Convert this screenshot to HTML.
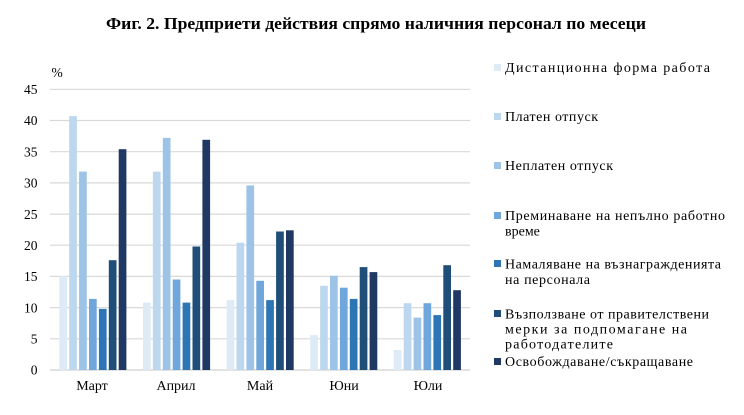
<!DOCTYPE html>
<html>
<head>
<meta charset="utf-8">
<style>
html,body{margin:0;padding:0;background:#fff;}
svg{display:block;}
text{font-family:"Liberation Serif","Noto Serif CJK SC",serif;fill:#000;}
</style>
</head>
<body>
<svg width="744" height="415" viewBox="0 0 744 415" xmlns="http://www.w3.org/2000/svg">
<rect width="744" height="415" fill="#fff"/>
<text x="106" y="29" font-size="17" font-weight="bold" textLength="540" lengthAdjust="spacingAndGlyphs">Фиг. 2. Предприети действия спрямо наличния персонал по месеци</text>

<g stroke="#d9d9d9" stroke-width="1.2">
<line x1="50" y1="89.3" x2="470" y2="89.3"/>
<line x1="50" y1="120.5" x2="470" y2="120.5"/>
<line x1="50" y1="151.7" x2="470" y2="151.7"/>
<line x1="50" y1="182.9" x2="470" y2="182.9"/>
<line x1="50" y1="214.1" x2="470" y2="214.1"/>
<line x1="50" y1="245.2" x2="470" y2="245.2"/>
<line x1="50" y1="276.4" x2="470" y2="276.4"/>
<line x1="50" y1="307.6" x2="470" y2="307.6"/>
<line x1="50" y1="338.8" x2="470" y2="338.8"/>
</g>

<g font-size="13.5" text-anchor="end">
<text x="37.5" y="94">45</text>
<text x="37.5" y="125.2">40</text>
<text x="37.5" y="156.4">35</text>
<text x="37.5" y="187.6">30</text>
<text x="37.5" y="218.8">25</text>
<text x="37.5" y="249.9">20</text>
<text x="37.5" y="281.1">15</text>
<text x="37.5" y="312.3">10</text>
<text x="37.5" y="343.5">5</text>
<text x="37.5" y="374.7">0</text>
</g>
<text x="51.5" y="77" font-size="13.5">%</text>

<line x1="50" y1="370" x2="470" y2="370" stroke="#d0d0d0" stroke-width="1.2"/>

<g font-size="14" text-anchor="middle">
<text x="92" y="390">Март</text>
<text x="176" y="390">Април</text>
<text x="260" y="390">Май</text>
<text x="344" y="390">Юни</text>
<text x="428" y="390">Юли</text>
</g>

<g>
<rect x="494" y="64" width="7" height="7" fill="#deebf7"/>
<rect x="494" y="113" width="7" height="7" fill="#bdd7ee"/>
<rect x="494" y="162" width="7" height="7" fill="#9dc3e6"/>
<rect x="494" y="212" width="7" height="7" fill="#6fa6dc"/>
<rect x="494" y="260" width="7" height="7" fill="#2e75b6"/>
<rect x="494" y="310" width="7" height="7" fill="#1f4e79"/>
<rect x="494" y="358" width="7" height="7" fill="#203864"/>
</g>
<g font-size="14">
<text x="505" y="72" textLength="205" lengthAdjust="spacing">Дистанционна форма работа</text>
<text x="505" y="121" textLength="93" lengthAdjust="spacing">Платен отпуск</text>
<text x="505" y="170" textLength="108" lengthAdjust="spacing">Неплатен отпуск</text>
<text x="505" y="220" textLength="220" lengthAdjust="spacing">Преминаване на непълно работно</text>
<text x="505" y="235.5">време</text>
<text x="505" y="268.5" textLength="216" lengthAdjust="spacing">Намаляване на възнагражденията</text>
<text x="505" y="284" textLength="85" lengthAdjust="spacing">на персонала</text>
<text x="505" y="318.3" textLength="204" lengthAdjust="spacing">Възползване от правителствени</text>
<text x="505" y="333.3" textLength="182" lengthAdjust="spacing">мерки за подпомагане на</text>
<text x="505" y="348.3" textLength="108" lengthAdjust="spacing">работодателите</text>
<text x="505" y="366" textLength="188" lengthAdjust="spacing">Освобождаване/съкращаване</text>
</g>

<g>
<!-- Март -->
<rect x="59.3" y="276.4" width="7.7" height="93.6" fill="#deebf7"/>
<rect x="69.2" y="116.1" width="7.7" height="253.9" fill="#bdd7ee"/>
<rect x="79.1" y="171.6" width="7.7" height="198.4" fill="#9dc3e6"/>
<rect x="89.0" y="298.9" width="7.7" height="71.1" fill="#6fa6dc"/>
<rect x="98.9" y="308.9" width="7.7" height="61.1" fill="#2e75b6"/>
<rect x="108.8" y="260.2" width="7.7" height="109.8" fill="#1f4e79"/>
<rect x="118.7" y="149.2" width="7.7" height="220.8" fill="#203864"/>
<!-- Април -->
<rect x="143.0" y="302.6" width="7.7" height="67.4" fill="#deebf7"/>
<rect x="152.9" y="171.6" width="7.7" height="198.4" fill="#bdd7ee"/>
<rect x="162.8" y="137.9" width="7.7" height="232.1" fill="#9dc3e6"/>
<rect x="172.7" y="279.5" width="7.7" height="90.5" fill="#6fa6dc"/>
<rect x="182.6" y="302.6" width="7.7" height="67.4" fill="#2e75b6"/>
<rect x="192.5" y="246.5" width="7.7" height="123.5" fill="#1f4e79"/>
<rect x="202.4" y="139.8" width="7.7" height="230.2" fill="#203864"/>
<!-- Май -->
<rect x="226.6" y="300.1" width="7.7" height="69.9" fill="#deebf7"/>
<rect x="236.5" y="242.7" width="7.7" height="127.3" fill="#bdd7ee"/>
<rect x="246.4" y="185.4" width="7.7" height="184.6" fill="#9dc3e6"/>
<rect x="256.3" y="280.8" width="7.7" height="89.2" fill="#6fa6dc"/>
<rect x="266.2" y="300.1" width="7.7" height="69.9" fill="#2e75b6"/>
<rect x="276.1" y="231.5" width="7.7" height="138.5" fill="#1f4e79"/>
<rect x="286.0" y="230.3" width="7.7" height="139.7" fill="#203864"/>
<!-- Юни -->
<rect x="310.2" y="335.1" width="7.7" height="34.9" fill="#deebf7"/>
<rect x="320.1" y="285.8" width="7.7" height="84.2" fill="#bdd7ee"/>
<rect x="330.0" y="275.8" width="7.7" height="94.2" fill="#9dc3e6"/>
<rect x="339.9" y="287.7" width="7.7" height="82.3" fill="#6fa6dc"/>
<rect x="349.8" y="298.9" width="7.7" height="71.1" fill="#2e75b6"/>
<rect x="359.7" y="267.1" width="7.7" height="102.9" fill="#1f4e79"/>
<rect x="369.6" y="272.1" width="7.7" height="97.9" fill="#203864"/>
<!-- Юли -->
<rect x="393.8" y="350.0" width="7.7" height="20.0" fill="#deebf7"/>
<rect x="403.7" y="303.2" width="7.7" height="66.8" fill="#bdd7ee"/>
<rect x="413.6" y="317.6" width="7.7" height="52.4" fill="#9dc3e6"/>
<rect x="423.5" y="303.2" width="7.7" height="66.8" fill="#6fa6dc"/>
<rect x="433.4" y="315.1" width="7.7" height="54.9" fill="#2e75b6"/>
<rect x="443.3" y="265.2" width="7.7" height="104.8" fill="#1f4e79"/>
<rect x="453.2" y="290.2" width="7.7" height="79.8" fill="#203864"/>
</g>
</svg>
</body>
</html>
